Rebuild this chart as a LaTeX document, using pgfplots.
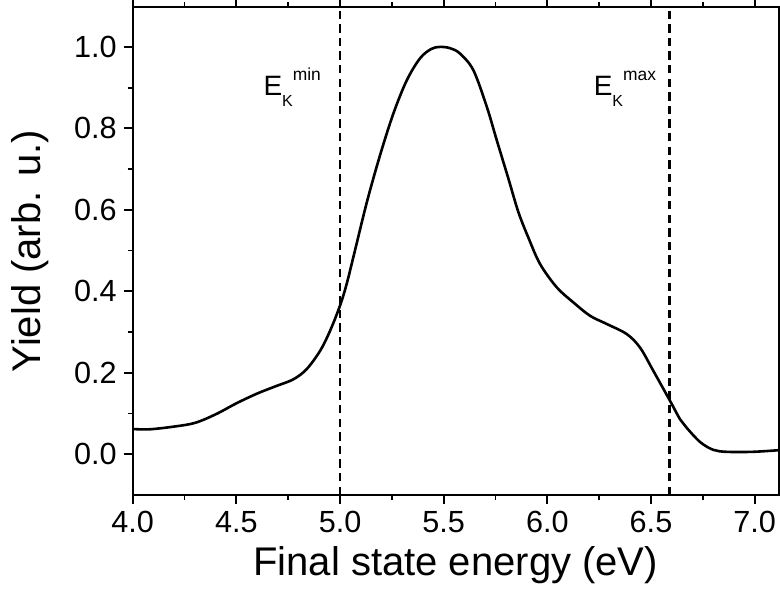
\documentclass[border=0pt]{standalone}
\usepackage{pgfplots}
\pgfplotsset{compat=1.18}
\usepackage{fontspec}
\setmainfont{Liberation Sans}
\begin{document}
\begin{tikzpicture}
\begin{axis}[
  scale only axis,
  width=323pt, height=244pt,
  xmin=4, xmax=7.116, ymin=-0.1, ymax=1.098,
  axis line style={line width=1.1pt},
  xtick={4,4.5,5,5.5,6,6.5,7},
  ytick={0,0.2,0.4,0.6,0.8,1.0},
  minor x tick num=1, minor y tick num=1,
  tick align=outside,
  tick pos=both,
  major tick length=4.5pt, minor tick length=2.5pt,
  every tick/.style={line width=0.9pt, black},
  /pgf/number format/assume math mode=true,
  /pgf/number format/.cd, fixed, fixed zerofill, precision=1,
  /pgfplots/.cd,
  tick label style={font=\fontsize{15.3}{18}\selectfont},
  xlabel={Final state energy (eV)},
  ylabel={Yield (arb. u.)},
  label style={font=\fontsize{20}{24}\selectfont},
  every axis y label/.append style={yshift=6pt},
  clip=true,
]
\addplot[black, line width=1.3pt, smooth, tension=0.55] table {
x y
4.00 0.062
4.05 0.061
4.10 0.062
4.20 0.068
4.30 0.077
4.40 0.098
4.50 0.125
4.60 0.149
4.695 0.168
4.775 0.184
4.839 0.209
4.904 0.254
4.952 0.303
5.000 0.365
5.032 0.418
5.072 0.500
5.130 0.620
5.193 0.734
5.257 0.836
5.322 0.918
5.386 0.972
5.440 0.995
5.482 1.000
5.530 0.997
5.578 0.984
5.643 0.943
5.708 0.853
5.756 0.771
5.812 0.677
5.860 0.595
5.910 0.530
5.965 0.467
6.045 0.410
6.125 0.373
6.206 0.340
6.286 0.320
6.383 0.295
6.447 0.262
6.511 0.205
6.592 0.131
6.640 0.086
6.672 0.065
6.737 0.030
6.800 0.011
6.865 0.006
6.990 0.006
7.116 0.010
};
\addplot[black, line width=1.2pt, dash pattern=on 4.2pt off 2.6pt] coordinates {(5,-0.1) (5,1.098)};
\addplot[black, line width=1.2pt, dash pattern=on 4.2pt off 2.6pt] coordinates {(6.59,-0.1) (6.59,1.098)};
\node[anchor=base west, inner sep=0pt, font=\fontsize{14}{16}\selectfont] at (axis cs:4.629,0.881)
  {E\raisebox{-5.8pt}{\fontsize{8}{8}\selectfont K}\raisebox{7.5pt}{\fontsize{8.7}{9}\selectfont min}};
\node[anchor=base west, inner sep=0pt, font=\fontsize{14}{16}\selectfont] at (axis cs:6.222,0.881)
  {E\raisebox{-5.8pt}{\fontsize{8}{8}\selectfont K}\raisebox{7.5pt}{\fontsize{8.7}{9}\selectfont max}};
\end{axis}
\pgfresetboundingbox
\path (-66.35pt,-49.5pt) rectangle (323.65pt,247.5pt);
\end{tikzpicture}
\end{document}
